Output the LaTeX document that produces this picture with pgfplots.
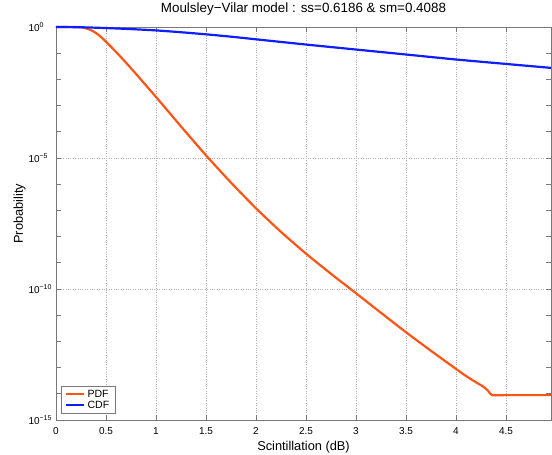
\documentclass[border=0pt]{standalone}
\usepackage{pgfplots}
\pgfplotsset{compat=1.18}
\usepackage{fontspec}
\setmainfont{Liberation Sans}
\definecolor{pdfc}{RGB}{255,85,20}
\definecolor{cdfc}{RGB}{15,30,255}
\definecolor{framec}{RGB}{120,120,120}

\begin{document}
\begin{tikzpicture}
\path[use as bounding box] (-56pt,-35pt) rectangle (496pt,420pt);
\begin{axis}[
  at={(0,0)}, anchor=south west,
  scale only axis, width=495pt, height=393pt,
  xmin=0, xmax=4.95,
  ymode=log, ymin=1e-15, ymax=1,
  clip=false,
  xtick={0,0.5,1,1.5,2,2.5,3,3.5,4,4.5},
  xticklabels={0,0.5,1,1.5,2,2.5,3,3.5,4,4.5},
  ytick={1e-15,1e-10,1e-5,1},
  yticklabels={10\textsuperscript{−15},10\textsuperscript{−10},10\textsuperscript{−5},10\textsuperscript{0}},
  minor ytick={1e-14,1e-13,1e-12,1e-11,1e-9,1e-8,1e-7,1e-6,1e-4,1e-3,1e-2,1e-1},
  xtick pos=both, ytick pos=both,
  tick align=inside,
  major tick length=5pt, minor tick length=5pt,
  axis line style={framec, line width=0.8pt},
  tick style={framec, line width=0.8pt},
  grid=major,
  major grid style={dotted, black!30, line width=0.6pt},
  minor grid style={draw=none},
  xticklabel style={font=\fontsize{10}{11}\selectfont, yshift=-4pt},
  yticklabel style={font=\fontsize{10}{11}\selectfont, anchor=west, xshift=-31pt},
  title={Moulsley−Vilar model : ss=0.6186 \& sm=0.4088},
  title style={font=\fontsize{13.4}{15}\selectfont, at={(axis description cs:0.5,1)}, anchor=base, yshift=8.5pt},
  xlabel={Scintillation (dB)},
  xlabel style={font=\fontsize{12.8}{14}\selectfont, at={(axis description cs:0.5,0)}, anchor=base, yshift=-30pt},
  ylabel={Probability},
  ylabel style={font=\fontsize{12.8}{14}\selectfont, at={(axis description cs:-0.0667,0.525)}, anchor=base},
  legend style={at={(axis description cs:0.0101,0.0153)}, anchor=south west,
    draw=framec, line width=0.8pt, font=\fontsize{10.5}{11}\selectfont, inner xsep=4pt, inner ysep=2pt,
    row sep=-2pt},
  legend cell align=left,
  legend image code/.code={\draw[#1] (0pt,0pt) -- (18pt,0pt);},
]
% probability density
\addplot[pdfc, line width=2.2pt, smooth, tension=0.4] coordinates {
  (0,1) (0.2,1) (0.25,0.977) (0.3,0.891) (0.35,0.759) (0.4,0.589)
  (0.45,0.417) (0.5,0.275) (0.6,0.112) (0.7,0.0437) (0.8,0.0162)
  (0.9,5.89e-3) (1.0,2.14e-3) (1.1,7.59e-4) (1.2,2.69e-4) (1.3,9.55e-5)
  (1.4,3.47e-5) (1.5,1.26e-5) (1.6,4.79e-6) (1.75,1.15e-6)
  (2.0,1.20e-7) (2.25,1.51e-8) (2.5,2.24e-9) (2.75,3.80e-10) (3.0,6.92e-11)
  (3.25,1.23e-11) (3.5,2.24e-12) (3.75,4.37e-13) (4.0,8.91e-14)
  (4.1,4.79e-14) (4.2,2.75e-14) (4.27,1.91e-14) (4.32,1.32e-14)
  (4.36,8.91e-15) (4.5,8.91e-15) (4.95,8.91e-15)
};
\addlegendentry{PDF}
% cumulative distribution
\addplot[cdfc, line width=2.2pt, smooth, tension=0.4] coordinates {
  (0,1) (0.25,0.977) (0.5,0.912) (0.75,0.832) (1.0,0.741) (1.25,0.631)
  (1.5,0.525) (1.75,0.427) (2.0,0.339) (2.5,0.214) (3.0,0.138)
  (3.5,0.0891) (4.0,0.0575) (4.5,0.0389) (4.95,0.0275)
};
\addlegendentry{CDF}
\end{axis}
\end{tikzpicture}
\end{document}
